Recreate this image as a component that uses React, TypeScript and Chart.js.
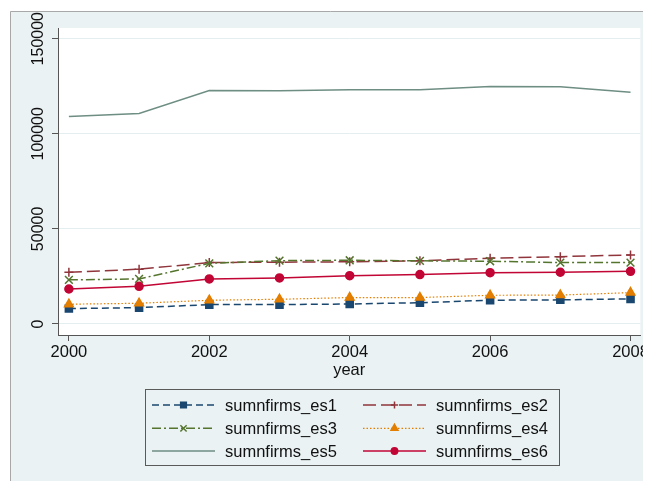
import React, { useEffect, useRef } from "react";
import { Chart, registerables } from "chart.js";
import { drawPoint } from "chart.js/helpers";

Chart.register(...registerables);

const years = [2000, 2001, 2002, 2003, 2004, 2005, 2006, 2007, 2008];
const es1 = [8100, 8600, 10200, 10200, 10500, 11200, 12500, 12700, 13200];
const es2 = [27200, 28800, 32300, 32500, 32700, 33200, 34600, 35400, 36300];
const es3 = [23200, 23700, 31900, 33300, 33500, 33200, 33000, 32300, 32300];
const es4 = [10400, 10900, 12500, 13000, 13900, 13900, 15100, 15200, 16500];
const es5 = [109100, 110700, 122800, 122600, 123200, 123200, 124900, 124700, 121900];
const es6 = [18400, 19800, 23700, 24200, 25400, 26000, 27000, 27200, 27700];

const seriesNames = ["sumnfirms_es1", "sumnfirms_es2", "sumnfirms_es3", "sumnfirms_es4", "sumnfirms_es5", "sumnfirms_es6"];
const xTicks = [2000, 2002, 2004, 2006, 2008];
const yTicks = [0, 50000, 100000, 150000];
const xTitle = "year";

const FONT = "Liberation Sans, Arial, Helvetica, sans-serif";
const BG = "#eaf2f3";

const styles = [
  { color: "#1a476f", dash: [7, 4], pointStyle: "rect", radius: 5, width: 1.5 },
  { color: "#90353b", dash: [13, 5], pointStyle: "cross", radius: 4.5, width: 1.5 },
  { color: "#55752f", dash: [9, 3, 2, 3], pointStyle: "crossRot", radius: 5.5, width: 1.5 },
  { color: "#e37e00", dash: [1.5, 2], pointStyle: "triangle", radius: 5, width: 1.2 },
  { color: "#6e8e84", dash: [], pointStyle: false as any, radius: 0, width: 1.5 },
  { color: "#c10534", dash: [], pointStyle: "circle", radius: 4, width: 1.5 },
];

const seriesData = [es1, es2, es3, es4, es5, es6];

const bgPlugin = {
  id: "bgPlugin",
  beforeDraw(chart: any) {
    const { ctx, width, height, chartArea } = chart;
    ctx.save();
    ctx.fillStyle = "#ffffff";
    ctx.fillRect(0, 0, width, height);
    ctx.fillStyle = BG;
    ctx.fillRect(2, 3, width - 2, height - 3);
    ctx.strokeStyle = "#a8a8a8";
    ctx.lineWidth = 1;
    ctx.beginPath();
    ctx.moveTo(2.5, height);
    ctx.lineTo(2.5, 3.5);
    ctx.lineTo(width, 3.5);
    ctx.stroke();
    ctx.fillStyle = "#ffffff";
    ctx.fillRect(chartArea.left, chartArea.top, chartArea.right - chartArea.left, chartArea.bottom - chartArea.top);
    ctx.restore();
  },
};

const overlayPlugin = {
  id: "overlayPlugin",
  afterDraw(chart: any) {
    const { ctx } = chart;
    const yScale = chart.scales.y;
    ctx.save();
    ctx.fillStyle = "#111";
    ctx.font = `16px ${FONT}`;
    ctx.textAlign = "center";
    ctx.textBaseline = "middle";
    for (const t of yScale.ticks) {
      const py = yScale.getPixelForValue(t.value);
      ctx.save();
      ctx.translate(31, py);
      ctx.rotate(-Math.PI / 2);
      ctx.fillText(String(t.value), 0, 0);
      ctx.restore();
    }
    const box = { l: 137.5, t: 381.5, r: 551.5, b: 457.5 };
    ctx.strokeStyle = "#5a5a5a";
    ctx.lineWidth = 1;
    ctx.strokeRect(box.l, box.t, box.r - box.l, box.b - box.t);
    const rows = [397, 420.3, 443];
    const cols = [{ x0: 144, x1: 207, tx: 217 }, { x0: 355, x1: 418, tx: 428 }];
    ctx.textAlign = "left";
    ctx.font = `16.5px ${FONT}`;
    seriesNames.forEach((name, i) => {
      const col = cols[i % 2];
      const y = rows[Math.floor(i / 2)];
      const st = styles[i];
      ctx.save();
      ctx.strokeStyle = st.color;
      ctx.lineWidth = st.width;
      ctx.setLineDash(st.dash);
      ctx.beginPath();
      ctx.moveTo(col.x0, y);
      ctx.lineTo(col.x1, y);
      ctx.stroke();
      ctx.setLineDash([]);
      if (st.pointStyle) {
        ctx.fillStyle = st.color;
        ctx.strokeStyle = st.color;
        ctx.lineWidth = 1.5;
        drawPoint(ctx, { pointStyle: st.pointStyle, radius: st.radius * 0.8, rotation: 0, borderWidth: 1.5 }, (col.x0 + col.x1) / 2, y);
      }
      ctx.restore();
      ctx.fillStyle = "#111";
      ctx.fillText(name, col.tx, y + 1);
    });
    ctx.restore();
  },
};

export default function App() {
  const ref = useRef<HTMLCanvasElement | null>(null);
  useEffect(() => {
    if (!ref.current) return;
    const chart = new Chart(ref.current, {
      type: "line",
      data: {
        datasets: seriesNames.map((name, i) => ({
          label: name,
          data: years.map((yr, j) => ({ x: yr, y: seriesData[i][j] })),
          borderColor: styles[i].color,
          backgroundColor: styles[i].color,
          borderWidth: styles[i].width,
          borderDash: styles[i].dash,
          pointStyle: styles[i].pointStyle,
          pointRadius: styles[i].radius,
          pointBorderWidth: 1.5,
          pointBorderColor: styles[i].color,
          pointBackgroundColor: styles[i].color,
          tension: 0,
          fill: false,
          order: 6 - i,
        })),
      },
      options: {
        animation: false,
        responsive: false,
        maintainAspectRatio: false,
        devicePixelRatio: 1,
        layout: { padding: { left: 0, right: 5, top: 20, bottom: 101 } },
        plugins: { legend: { display: false }, tooltip: { enabled: false } },
        scales: {
          x: {
            type: "linear",
            min: 1999.845,
            max: 2008.14,
            afterBuildTicks: (s: any) => { s.ticks = xTicks.map((v) => ({ value: v })); },
            afterFit: (s: any) => { s.height = 45; },
            ticks: {
              color: "#111",
              font: { family: FONT, size: 16.5 },
              padding: 2,
              maxRotation: 0,
              minRotation: 0,
              callback: (v: any) => String(v),
            },
            grid: { drawOnChartArea: false, drawTicks: true, tickLength: 6, tickColor: "#555", color: "#555" },
            border: { display: true, color: "#555", width: 1 },
            title: { display: true, text: xTitle, color: "#111", font: { family: FONT, size: 16.5 }, padding: { top: 0, bottom: 0 } },
          },
          y: {
            type: "linear",
            min: -5789,
            max: 155632,
            afterBuildTicks: (s: any) => { s.ticks = yTicks.map((v) => ({ value: v })); },
            afterFit: (s: any) => { s.width = 50; },
            ticks: { display: false },
            grid: { drawOnChartArea: true, drawTicks: true, tickLength: 6, tickColor: "#555", color: "#e4eef0", lineWidth: 1 },
            border: { display: true, color: "#555", width: 1 },
          },
        },
      },
      plugins: [bgPlugin, overlayPlugin],
    });
    return () => chart.destroy();
  }, []);
  return (
    <div style={{ width: 643, height: 473 }}>
      <canvas ref={ref} width={643} height={473} style={{ display: "block", width: 643, height: 473 }} />
    </div>
  );
}
